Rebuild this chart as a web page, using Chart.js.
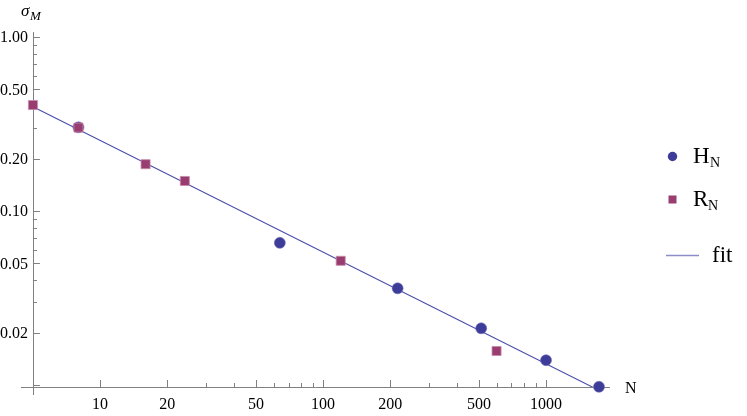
<!DOCTYPE html>
<html>
<head>
<meta charset="utf-8">
<script src="https://cdn.jsdelivr.net/npm/chart.js@4.4.1/dist/chart.umd.min.js"></script>
<style>
    body { margin: 0; background: #fff; }
    #wrap { width: 747px; height: 416px; }
</style>
</head>
<body>
<div id="wrap"><canvas id="chart"></canvas></div>
<script>
// cube lattices H_N and regular 4-polytopes R_N
const hN = [8, 64, 216, 512, 1000, 1728];
const hSigma = [0.303, 0.0657, 0.0360, 0.0212, 0.0139, 0.00978];
const rN = [5, 8, 16, 24, 120, 600];
const rSigma = [0.407, 0.302, 0.186, 0.149, 0.0518, 0.0157];
const fitN = [5, 1936];
const fitSigma = [0.398, 0.00867];

const xMajorTicks = [10, 20, 50, 100, 200, 500, 1000];
const xTickLabels = ['10', '20', '50', '100', '200', '500', '1000'];
const xMinorTicks = [30, 40, 60, 70, 80, 90, 300, 400, 600, 700, 800, 900];
const yMajorTicks = [0.01, 0.02, 0.05, 0.1, 0.2, 0.5, 1];
const yTickLabels = ['', '0.02', '0.05', '0.10', '0.20', '0.50', '1.00'];
const yMinorTicks = [0.03, 0.04, 0.06, 0.07, 0.08, 0.09, 0.3, 0.4, 0.6, 0.7, 0.8, 0.9];

const seriesNames = ['H', 'R', 'fit'];

const blue = '#3d3d99';
const purple = '#993d71';
const axisColor = '#808080';
const serif = '"Liberation Serif", "DejaVu Serif", serif';

const toPoints = (xs, ys) => xs.map((x, i) => ({x: x, y: ys[i]}));

// Mathematica-style axes: crossing at N = 5, ticks pointing inward
const axesPlugin = {
    id: 'axes',
    beforeDatasetsDraw(chart) {
        const ctx = chart.ctx;
        const xs = chart.scales.x;
        const ys = chart.scales.y;
        const area = chart.chartArea;
        const x0 = xs.getPixelForValue(5);
        const y0 = area.bottom;
        ctx.save();
        ctx.strokeStyle = axisColor;
        ctx.lineWidth = 1;
        ctx.beginPath();
        ctx.moveTo(area.left, y0 + 0.5);
        ctx.lineTo(area.right, y0 + 0.5);
        ctx.moveTo(Math.round(x0) + 0.5, area.top);
        ctx.lineTo(Math.round(x0) + 0.5, y0 + 8);
        ctx.stroke();

        ctx.beginPath();
        xMajorTicks.forEach(v => {
            const px = Math.round(xs.getPixelForValue(v)) + 0.5;
            ctx.moveTo(px, y0);
            ctx.lineTo(px, y0 - 7);
        });
        xMinorTicks.forEach(v => {
            const px = Math.round(xs.getPixelForValue(v)) + 0.5;
            ctx.moveTo(px, y0);
            ctx.lineTo(px, y0 - 4);
        });
        yMajorTicks.forEach(v => {
            const py = Math.round(ys.getPixelForValue(v)) + 0.5;
            ctx.moveTo(x0, py);
            ctx.lineTo(x0 + 7, py);
        });
        yMinorTicks.forEach(v => {
            const py = Math.round(ys.getPixelForValue(v)) + 0.5;
            ctx.moveTo(x0, py);
            ctx.lineTo(x0 + 4, py);
        });
        ctx.stroke();

        ctx.fillStyle = '#000';
        ctx.font = '16px ' + serif;
        ctx.textAlign = 'center';
        ctx.textBaseline = 'alphabetic';
        xMajorTicks.forEach((v, i) => {
            ctx.fillText(xTickLabels[i], xs.getPixelForValue(v), y0 + 22);
        });
        ctx.textAlign = 'right';
        ctx.textBaseline = 'middle';
        yMajorTicks.forEach((v, i) => {
            ctx.fillText(yTickLabels[i], x0 - 5, ys.getPixelForValue(v) + 1);
        });

        // axis labels
        ctx.textAlign = 'left';
        ctx.textBaseline = 'alphabetic';
        ctx.font = 'italic 17px ' + serif;
        ctx.fillText('σ', 21, 16);
        ctx.font = 'italic 13px ' + serif;
        ctx.fillText('M', 30, 20);
        ctx.font = '16px ' + serif;
        ctx.fillText('N', 625, 393);
        ctx.restore();
    },
    afterDraw(chart) {
        const ctx = chart.ctx;
        ctx.save();
        // legend
        ctx.fillStyle = blue;
        ctx.beginPath();
        ctx.arc(672.5, 156.5, 4.7, 0, Math.PI * 2);
        ctx.fill();
        ctx.fillStyle = purple;
        ctx.fillRect(668.5, 195.5, 8, 8);
        ctx.strokeStyle = '#8c8cc8';
        ctx.lineWidth = 1.5;
        ctx.beginPath();
        ctx.moveTo(666, 255.5);
        ctx.lineTo(699, 255.5);
        ctx.stroke();

        ctx.fillStyle = '#000';
        ctx.textAlign = 'left';
        ctx.textBaseline = 'alphabetic';
        ctx.font = '23px ' + serif;
        ctx.fillText(seriesNames[0], 693, 163);
        ctx.fillText(seriesNames[1], 693, 206);
        ctx.fillText(seriesNames[2], 712, 262);
        ctx.font = '14px ' + serif;
        ctx.fillText('N', 710, 167);
        ctx.fillText('N', 708, 210);
        ctx.restore();
    }
};

new Chart(document.getElementById('chart'), {
    type: 'scatter',
    data: {
        datasets: [
            {
                label: 'R_N',
                data: toPoints(rN, rSigma),
                pointStyle: 'rect',
                pointRadius: 6.4,
                backgroundColor: purple,
                borderColor: '#c58aa9',
                borderWidth: 0.8,
                clip: false,
                order: 0
            },
            {
                label: 'H_N',
                data: toPoints(hN, hSigma),
                pointStyle: 'circle',
                pointRadius: 5.5,
                backgroundColor: blue,
                borderColor: '#6c6cb4',
                borderWidth: 0.6,
                clip: false,
                order: 1
            },
            {
                label: 'fit',
                type: 'line',
                data: toPoints(fitN, fitSigma),
                borderColor: '#4b4bb0',
                borderWidth: 1.1,
                pointRadius: 0,
                fill: false,
                tension: 0,
                order: 2
            }
        ]
    },
    options: {
        responsive: true,
        maintainAspectRatio: false,
        animation: false,
        layout: {
            padding: {left: 21, right: 137, top: 32, bottom: 29}
        },
        plugins: {
            legend: {display: false},
            tooltip: {enabled: false}
        },
        scales: {
            x: {
                type: 'logarithmic',
                display: false,
                min: 4.42,
                max: 1936
            },
            y: {
                type: 'logarithmic',
                display: false,
                min: 0.00975,
                max: 1.07
            }
        }
    },
    plugins: [axesPlugin]
});
</script>
</body>
</html>
